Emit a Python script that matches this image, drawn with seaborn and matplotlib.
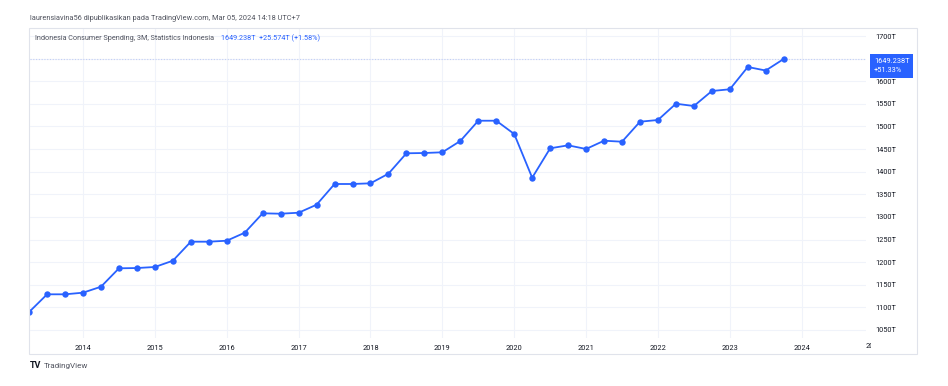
import matplotlib
matplotlib.use("Agg")
import matplotlib.pyplot as plt
from matplotlib.patches import Rectangle
import seaborn as sns
import pandas as pd

# quarterly consumer spending (trillion rupiah), 2013 Q2 .. 2023 Q4
quarters = [
    "2013Q2", "2013Q3", "2013Q4",
    "2014Q1", "2014Q2", "2014Q3", "2014Q4",
    "2015Q1", "2015Q2", "2015Q3", "2015Q4",
    "2016Q1", "2016Q2", "2016Q3", "2016Q4",
    "2017Q1", "2017Q2", "2017Q3", "2017Q4",
    "2018Q1", "2018Q2", "2018Q3", "2018Q4",
    "2019Q1", "2019Q2", "2019Q3", "2019Q4",
    "2020Q1", "2020Q2", "2020Q3", "2020Q4",
    "2021Q1", "2021Q2", "2021Q3", "2021Q4",
    "2022Q1", "2022Q2", "2022Q3", "2022Q4",
    "2023Q1", "2023Q2", "2023Q3", "2023Q4",
]
spending = [
    1089.8, 1128.9, 1128.9,
    1132.5, 1145.7, 1186.4, 1187.0,
    1189.3, 1203.2, 1245.2, 1245.2,
    1247.4, 1265.1, 1308.0, 1307.1,
    1309.3, 1327.0, 1372.8, 1372.8,
    1374.3, 1395.6, 1440.7, 1441.3,
    1442.9, 1467.9, 1512.7, 1512.7,
    1483.3, 1386.7, 1451.7, 1458.3,
    1450.2, 1468.5, 1466.3, 1510.5,
    1514.3, 1550.3, 1545.2, 1578.4,
    1582.2, 1631.5, 1623.664, 1649.238,
]
year_ticks = list(range(2014, 2025))
price_ticks = list(range(1050, 1701, 50))

BLUE = "#2962FF"
GRID = "#f0f3fa"
TEXT = "#131722"

df = pd.DataFrame({"quarter": quarters, "value": spending})
df["x"] = [int(q[:4]) + (int(q[-1]) - 1) * 0.25 for q in df["quarter"]]

sns.set_style("white")
plt.rcParams["font.family"] = ["Roboto", "DejaVu Sans"]

W, H = 948, 386
fig = plt.figure(figsize=(W / 100, H / 100), dpi=100)
ax = fig.add_axes([30 / W, (H - 338) / H, (866 - 30) / W, (338 - 28) / H])

ax.set_xlim(2013.262, 2024.895)
ax.set_ylim(1032.3, 1717.7)

sns.lineplot(data=df, x="x", y="value", ax=ax, color=BLUE, linewidth=1.3,
             marker="o", markersize=4.6, markeredgewidth=0)

last = spending[-1]
ax.axhline(last, color="#c3cff5", linewidth=0.8, linestyle=(0, (1, 1.5)), zorder=1)

ax.set_xticks(year_ticks)
ax.set_xticklabels([str(y) for y in year_ticks])
ax.set_yticks(price_ticks)
ax.set_yticklabels([f"{p}T" for p in price_ticks])
ax.yaxis.tick_right()
ax.tick_params(axis="both", length=0, labelsize=5.3, labelcolor=TEXT)
ax.tick_params(axis="y", pad=7)
ax.tick_params(axis="x", pad=5)
ax.grid(True, color=GRID, linewidth=0.8)
ax.set_axisbelow(True)
for s in ax.spines.values():
    s.set_visible(False)
ax.set_xlabel("")
ax.set_ylabel("")

# 2025 label, cut off by the price scale like in the original
x2025 = 30 + (2025 - 2013.262) / (2024.895 - 2013.262) * (866 - 30)
t = fig.text(x2025 / W, 1 - 346 / H, "2025", ha="center", va="center",
             fontsize=5.3, color=TEXT)
t.set_clip_path(Rectangle((0, 0), 871 / W, 1, transform=fig.transFigure))
t.set_clip_on(True)

# outer frame
fig.add_artist(Rectangle((29 / W, (H - 354) / H), (917 - 29) / W, (354 - 28) / H,
                         transform=fig.transFigure, fill=False,
                         edgecolor="#e0e3eb", linewidth=0.8))

# header and legend text
fig.text(30 / W, 1 - 19 / H, "laurensiavina56 dipublikasikan pada TradingView.com, Mar 05, 2024 14:18 UTC+7",
         fontsize=5.3, color="#50535e", va="center")
fig.text(35 / W, 1 - 38 / H, "Indonesia Consumer Spending, 3M, Statistics Indonesia",
         fontsize=5.2, color="#50535e", va="center")
fig.text(221 / W, 1 - 38 / H, f"{last:.3f}T  +25.574T (+1.58%)",
         fontsize=5.2, color=BLUE, va="center")

# last-value price label
fig.add_artist(Rectangle((870 / W, (H - 78) / H), 43 / W, 24 / H,
                         transform=fig.transFigure, color=BLUE, linewidth=0))
fig.text(874 / W, 1 - 66 / H,
         f"{last:.3f}T\n+{(last / spending[0] - 1) * 100:.2f}%",
         fontsize=5.3, color="white", va="center", linespacing=1.35)

# TradingView mark
fig.text(30 / W, 1 - 366 / H, "TV", fontsize=6.5, color=TEXT, weight="bold", va="center")
fig.text(44 / W, 1 - 366 / H, "TradingView", fontsize=5.8, color="#50535e", va="center")

fig.savefig("out.png", dpi=100, facecolor="white")
